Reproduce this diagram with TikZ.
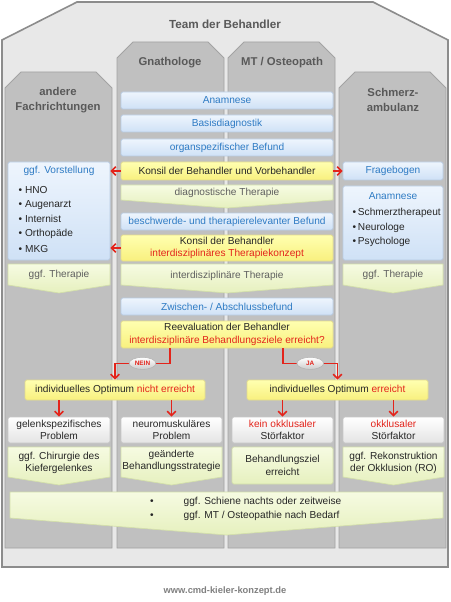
\documentclass[tikz,border=0pt]{standalone}
\usepackage{fontspec}
\setmainfont{Liberation Sans}
\usetikzlibrary{arrows.meta,shapes.geometric}
\newdimen\pxu \pxu=0.75pt
\definecolor{outerfill}{HTML}{E8E8E8}
\definecolor{outerdraw}{HTML}{8C8C8C}
\definecolor{colfill}{HTML}{C0C0C0}
\definecolor{coldraw}{HTML}{A3A3A3}
\definecolor{hdtext}{HTML}{595959}
\definecolor{bluetop}{HTML}{EEF5FD}
\definecolor{bluebot}{HTML}{CFE1F6}
\definecolor{bluedraw}{HTML}{B8CCE4}
\definecolor{bluetext}{HTML}{2E7BC4}
\definecolor{yeltop}{HTML}{FFFFB0}
\definecolor{yelbot}{HTML}{F8F07E}
\definecolor{yeldraw}{HTML}{E3DC8C}
\definecolor{grntop}{HTML}{F6FBE2}
\definecolor{grnbot}{HTML}{E6F0BE}
\definecolor{grndraw}{HTML}{D3DFAA}
\definecolor{gratop}{HTML}{FFFFFF}
\definecolor{grabot}{HTML}{E4E4E4}
\definecolor{gradraw}{HTML}{C6C6C6}
\definecolor{redc}{HTML}{E3241B}
\definecolor{txt}{HTML}{262626}
\definecolor{grntext}{HTML}{5F5F5F}
\definecolor{foot}{HTML}{7F7F7F}
\tikzset{
  hd/.style={font=\bfseries\fontsize{8.5}{11.25}\selectfont, text=hdtext, align=center},
  bodyf/.style={font=\fontsize{7.6}{9.4}\selectfont},
  basebox/.style={bodyf, inner sep=0pt, rounded corners=1.2pt, line width=0.5pt, align=center},
  bluebox/.style={basebox, draw=bluedraw, top color=bluetop, bottom color=bluebot, text=bluetext},
  yelbox/.style={basebox, draw=yeldraw, top color=yeltop, bottom color=yelbot, text=txt},
  grabox/.style={basebox, draw=gradraw, top color=gratop, bottom color=grabot, text=txt},
  grnbox/.style={basebox, draw=grndraw, top color=grntop, bottom color=grnbot, text=txt},
  chev/.style={draw=grndraw, line width=0.5pt, top color=grntop, bottom color=grnbot},
  chevtext/.style={bodyf, text=grntext, align=center},
  listtext/.style={bodyf, text=txt, anchor=west},
  colshape/.style={draw=coldraw, line width=0.6pt, fill=colfill},
  outershape/.style={draw=outerdraw, line width=1.2pt, fill=outerfill},
  redarr/.style={draw=redc, line width=1.2pt, -{Straight Barb[length=3.2pt,width=6.5pt]}},
  ovl/.style={ellipse, draw=gray!60, line width=0.4pt, top color=white, bottom color=gray!40,
    minimum width=20pt, minimum height=9pt, inner sep=0pt, text=redc,
    font=\bfseries\fontsize{4.8}{5.5}\selectfont},
}
\newcommand\chevpath[5]{\path[chev] (#1,#2) -- (#3,#2) -- (#3,#4) -- ({(#1+#3)/2},#5) -- (#1,#4) -- cycle;}
\newcommand\colpath[4]{\path[colshape] (#1,#4) -- ({#1},{#2+16}) -- ({#1+16},#2) -- ({#3-16},#2) -- ({#3},{#2+16}) -- (#3,#4) -- cycle;}
\newcommand\bx[7]{\node[#1, minimum width={(#5-#3)*0.75pt}, minimum height={(#6-#4)*0.75pt}] (#2) at ({(#3+#5)/2},{(#4+#6)/2}) {#7};}
\begin{document}
\begin{tikzpicture}[x=0.75pt,y=-0.75pt]
\useasboundingbox (0,0) rectangle (450,602);
% outer
\path[outershape] (2,40) -- (77,2) -- (373,2) -- (448,40) -- (448,567) -- (2,567) -- cycle;
\colpath{5}{72}{112}{548}
\colpath{117}{42}{224}{548}
\colpath{228}{42}{335}{548}
\colpath{339}{72}{446}{548}
% headings
\node[hd, font=\bfseries\fontsize{8.8}{11}\selectfont] (team) at (225,24) {Team der Behandler};
\node[hd] (gna) at (170,63) {Gnathologe};
\node[hd] (mt) at (282,63) {MT / Osteopath};
\node[hd] (andere) at (58,100) {andere\\Fachrichtungen};
\node[hd] (schm) at (393,100) {Schmerz-\\ambulanz};
% central column
\bx{bluebox}{anam}{121}{92}{333}{109}{Anamnese}
\bx{bluebox}{basis}{121}{115}{333}{132}{Basisdiagnostik}
\bx{bluebox}{organ}{121}{139}{333}{156}{organspezifischer Befund}
\bx{yelbox}{konsil1}{121}{162}{333}{180}{Konsil der Behandler und Vorbehandler}
\chevpath{121}{185}{333}{200}{208}
\node[chevtext] (diagT) at (227,193) {diagnostische Therapie};
\bx{bluebox}{beschw}{121}{213}{333}{230}{beschwerde- und therapierelevanter Befund}
\bx{yelbox}{konsil2}{121}{235}{333}{261}{Konsil der Behandler\\\textcolor{redc}{interdisziplinäres Therapiekonzept}}
\chevpath{121}{264}{333}{285}{293}
\node[chevtext] (interT) at (227,276) {interdisziplinäre Therapie};
\bx{bluebox}{zwischen}{121}{298}{333}{315}{Zwischen- / Abschlussbefund}
\bx{yelbox}{reeval}{121}{321}{333}{348}{Reevaluation der Behandler\\\textcolor{redc}{interdisziplinäre Behandlungsziele erreicht?}}
% left column
\bx{bluebox}{vorst}{8}{162}{110}{260}{}
\node[bodyf, text=bluetext] (vorstT) at (59,171) {ggf. Vorstellung};
\node[listtext] (v1) at (14,190) {\textbullet\ HNO};
\node[listtext] (v2) at (14,205) {\textbullet\ Augenarzt};
\node[listtext] (v3) at (14,219) {\textbullet\ Internist};
\node[listtext] (v4) at (14,234) {\textbullet\ Orthopäde};
\node[listtext] (v5) at (14,249) {\textbullet\ MKG};
\chevpath{8}{264}{110}{285}{293}
\node[chevtext] (ggfL) at (59,275) {ggf. Therapie};
% right column
\bx{bluebox}{frage}{343}{162}{443}{180}{Fragebogen}
\bx{bluebox}{anam2}{343}{186}{443}{260}{}
\node[bodyf, text=bluetext] (anam2T) at (393,196) {Anamnese};
\node[listtext] (s1) at (348,213) {\textbullet\,Schmerztherapeut};
\node[listtext] (s2) at (348,228) {\textbullet\,Neurologe};
\node[listtext] (s3) at (348,242) {\textbullet\,Psychologe};
\chevpath{343}{264}{443}{285}{293}
\node[chevtext] (ggfR) at (393,275) {ggf. Therapie};
% red arrows
\draw[redarr] (konsil1.west) -- (konsil1.west -| vorst.east);
\draw[redarr] (konsil1.east) -- (konsil1.east -| frage.west);
\draw[redarr] (konsil2.west) -- (konsil2.west -| vorst.east);
% outcome
\bx{yelbox}{nicht}{25}{380}{205}{400}{individuelles Optimum \textcolor{redc}{nicht erreicht}}
\bx{yelbox}{erreicht}{247}{380}{428}{400}{individuelles Optimum \textcolor{redc}{erreicht}}
\draw[redarr] ([xshift=-57\pxu]reeval.south) -- ++(0,15) -| node[pos=0.25, ovl] (nein) {NEIN} (nicht.north);
\draw[redarr] ([xshift=56\pxu]reeval.south) -- ++(0,15) -| node[pos=0.25, ovl] (ja) {JA} (erreicht.north);
\bx{grabox}{gelenk}{8}{417}{110}{443}{gelenkspezifisches\\Problem}
\bx{grabox}{neuro}{121}{417}{222}{443}{neuromuskuläres\\Problem}
\bx{grabox}{kein}{232}{417}{333}{443}{\textcolor{redc}{kein okklusaler}\\Störfaktor}
\bx{grabox}{okk}{343}{417}{444}{443}{\textcolor{redc}{okklusaler}\\Störfaktor}
\draw[redarr] (nicht.south -| gelenk.north) -- (gelenk.north);
\draw[redarr] (nicht.south -| neuro.north) -- (neuro.north);
\draw[redarr] (erreicht.south -| kein.north) -- (kein.north);
\draw[redarr] (erreicht.south -| okk.north) -- (okk.north);
% last row
\chevpath{8}{447}{110}{477}{485}
\node[chevtext, text=txt] (chir) at (59,463) {ggf. Chirurgie des\\Kiefergelenkes};
\chevpath{121}{447}{222}{477}{485}
\node[chevtext, text=txt] (strat) at (171.5,461) {geänderte\\Behandlungsstrategie};
\bx{grnbox}{ziel}{232}{447}{333}{484}{Behandlungsziel\\erreicht}
\chevpath{343}{447}{444}{477}{485}
\node[chevtext, text=txt] (rek) at (393.5,463) {ggf. Rekonstruktion\\der Okklusion (RO)};
\chevpath{10}{492}{443}{518}{535}
\node[bodyf, text=txt] (b1) at (152,502) {\textbullet};
\node[listtext] (t1) at (179,502) {ggf. Schiene nachts oder zeitweise};
\node[bodyf, text=txt] (b2) at (152,516) {\textbullet};
\node[listtext] (t2) at (179,516) {ggf. MT / Osteopathie nach Bedarf};
% footer
\node[font=\bfseries\fontsize{7}{8}\selectfont, text=foot] (footer) at (225,591) {www.cmd-kieler-konzept.de};
\end{tikzpicture}
\end{document}
